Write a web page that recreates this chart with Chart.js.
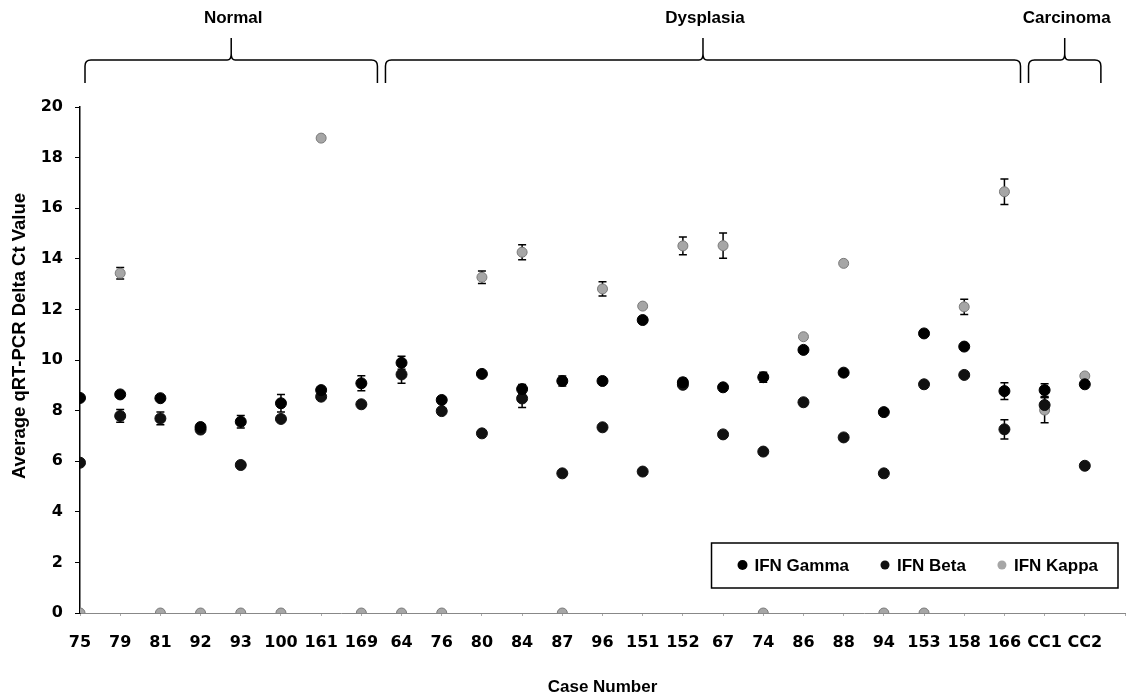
<!DOCTYPE html>
<html>
<head>
<meta charset="utf-8">
<script src="https://cdn.jsdelivr.net/npm/chart.js@4.4.1/dist/chart.umd.min.js"></script>
<style>body{margin:0;background:#fff}</style>
</head>
<body>
<canvas id="chart" width="1126" height="700"></canvas>
<script>
let cases=["75","79","81","92","93","100","161","169","64","76","80","84","87","96","151","152","67","74","86","88","94","153","158","166","CC1","CC2"]

let gamma=[8.5,8.64,8.49,7.35,7.56,8.29,8.81,9.08,9.89,8.42,9.45,8.85,9.17,9.17,11.58,9.12,8.92,9.32,10.4,9.5,7.94,11.05,10.53,8.77,8.81,9.04]
let gammaErr=[0,0,0,0,0.25,0.35,0,0.3,0.26,0.12,0,0.18,0.2,0,0,0.15,0,0.2,0,0,0,0,0,0.33,0.25,0]

let beta=[5.94,7.79,7.69,7.25,5.85,7.67,8.55,8.25,9.43,7.98,7.1,8.48,5.52,7.34,5.59,9.02,7.06,6.38,8.33,6.94,5.52,9.04,9.41,7.26,8.22,5.82]
let betaErr=[0,0.25,0.25,0,0,0,0,0,0.35,0,0,0.36,0,0,0,0,0,0,0,0,0,0,0,0.38,0.3,0]

let kappa=[0,13.43,0,0,0,0,18.77,0,0,0,13.27,14.26,0,12.81,12.13,14.51,14.52,0,10.92,13.82,0,0,12.1,16.65,8.02,9.37]
let kappaErr=[0,0.23,0,0,0,0,0,0,0,0,0.25,0.3,0,0.28,0,0.35,0.5,0,0,0,0,0,0.3,0.5,0.5,0]

let groups=[{name:"Normal",from:0,to:7},{name:"Dysplasia",from:8,to:23},{name:"Carcinoma",from:24,to:25}]

let yTitle="Average qRT-PCR Delta Ct Value"

function points(vals){
return vals.map((v,i)=>({x:i,y:v}))
}

let errorBars={
id:"errorBars",
beforeDatasetsDraw(chart){
let ctx=chart.ctx
let xs=chart.scales.x
let ys=chart.scales.y
ctx.save()
ctx.strokeStyle="#000"
ctx.lineWidth=1.5
chart.data.datasets.forEach(ds=>{
ds.err.forEach((e,i)=>{
if(!e) return
let x=xs.getPixelForValue(i)
let top=ys.getPixelForValue(ds.data[i].y+e)
let bot=ys.getPixelForValue(ds.data[i].y-e)
ctx.beginPath()
ctx.moveTo(x,top);ctx.lineTo(x,bot)
ctx.moveTo(x-4,top);ctx.lineTo(x+4,top)
ctx.moveTo(x-4,bot);ctx.lineTo(x+4,bot)
ctx.stroke()
})
})
ctx.restore()
}
}

let brackets={
id:"brackets",
afterDraw(chart){
let ctx=chart.ctx
let xs=chart.scales.x
let area=chart.chartArea
let yEnd=area.top-24,yLine=area.top-47,yPeak=area.top-69
ctx.save()
ctx.strokeStyle="#000"
ctx.lineWidth=1.5
ctx.fillStyle="#000"
ctx.font="bold 17px 'Liberation Sans'"
ctx.textAlign="center"
ctx.textBaseline="middle"
groups.forEach(g=>{
let L=Math.max(xs.getPixelForValue(g.from-0.4),area.left+5)
let R=xs.getPixelForValue(g.to+0.4)
let M=(L+R)/2
let r=6
ctx.beginPath()
ctx.moveTo(L,yEnd)
ctx.lineTo(L,yLine+r)
ctx.quadraticCurveTo(L,yLine,L+r,yLine)
ctx.lineTo(M-4,yLine)
ctx.quadraticCurveTo(M,yLine,M,yLine-6)
ctx.lineTo(M,yPeak)
ctx.moveTo(M,yLine-6)
ctx.quadraticCurveTo(M,yLine,M+4,yLine)
ctx.lineTo(R-r,yLine)
ctx.quadraticCurveTo(R,yLine,R,yLine+r)
ctx.lineTo(R,yEnd)
ctx.stroke()
ctx.fillText(g.name,M+2,yPeak-20)
})
// y axis title, sits a bit above the middle like the original
ctx.save()
ctx.translate(20,area.top+(area.bottom-area.top)/2-24)
ctx.rotate(-Math.PI/2)
ctx.font="bold 18.5px 'Liberation Sans'"
ctx.fillText(yTitle,0,0)
ctx.restore()
ctx.restore()
}
}

let boxLegend={
id:"boxLegend",
afterDraw(chart){
let ctx=chart.ctx
let area=chart.chartArea
ctx.save()
ctx.font="bold 17px 'Liberation Sans'"
let items=chart.data.datasets
let w=31
items.forEach((ds,i)=>{
w+=12+ctx.measureText(ds.label).width
w+=i<items.length-1?36:20
})
let right=area.right-7
let bottom=area.bottom-25
let left=right-w
let top=bottom-45
ctx.strokeStyle="#000"
ctx.lineWidth=1.5
ctx.fillStyle="#fff"
ctx.fillRect(left,top,w,45)
ctx.strokeRect(left,top,w,45)
let cx=left+31
let cy=top+22
ctx.textBaseline="middle"
items.forEach(ds=>{
ctx.beginPath()
ctx.arc(cx,cy,ds.legendRadius,0,Math.PI*2)
ctx.fillStyle=ds.backgroundColor
ctx.fill()
ctx.fillStyle="#000"
ctx.fillText(ds.label,cx+12,cy+1)
cx+=12+ctx.measureText(ds.label).width+36
})
ctx.restore()
}
}

new Chart(document.getElementById("chart"),{
type:"scatter",
data:{datasets:[
{label:"IFN Gamma",data:points(gamma),err:gammaErr,backgroundColor:"#000",borderColor:"#000",pointRadius:5.5,legendRadius:5},
{label:"IFN Beta",data:points(beta),err:betaErr,backgroundColor:"#111",borderColor:"#111",pointRadius:5.5,legendRadius:4.5},
{label:"IFN Kappa",data:points(kappa),err:kappaErr,backgroundColor:"#a6a6a6",borderColor:"#7a7a7a",borderWidth:1,pointRadius:5,legendRadius:4.5}
]},
options:{
responsive:false,
animation:false,
layout:{autoPadding:false,padding:{top:107,right:1,left:0,bottom:0}},
plugins:{legend:{display:false},tooltip:{enabled:false}},
scales:{
x:{
type:"linear",min:0,max:26,
afterFit(s){s.height=87;s.paddingLeft=0;s.paddingRight=0},
border:{color:"#888",dash:[2,2],width:1},
grid:{drawOnChartArea:false,tickLength:3,color:"#aaa"},
ticks:{stepSize:1,autoSkip:false,maxRotation:0,padding:17,color:"#000",font:{family:"'DejaVu Sans'",weight:"bold",size:16},callback:v=>cases[v]??""},
title:{display:true,text:"Case Number",color:"#000",font:{family:"'Liberation Sans'",weight:"bold",size:17},padding:{top:0,bottom:2},align:"center"}
},
y:{
min:0,max:20,
afterFit(s){s.width=80},
border:{color:"#000",width:1.5},
grid:{drawOnChartArea:false,tickLength:5,color:"#000"},
ticks:{stepSize:2,padding:12,color:"#000",font:{family:"'DejaVu Sans'",weight:"bold",size:16}}
}
}
},
plugins:[errorBars,brackets,boxLegend]
})
</script>
</body>
</html>
